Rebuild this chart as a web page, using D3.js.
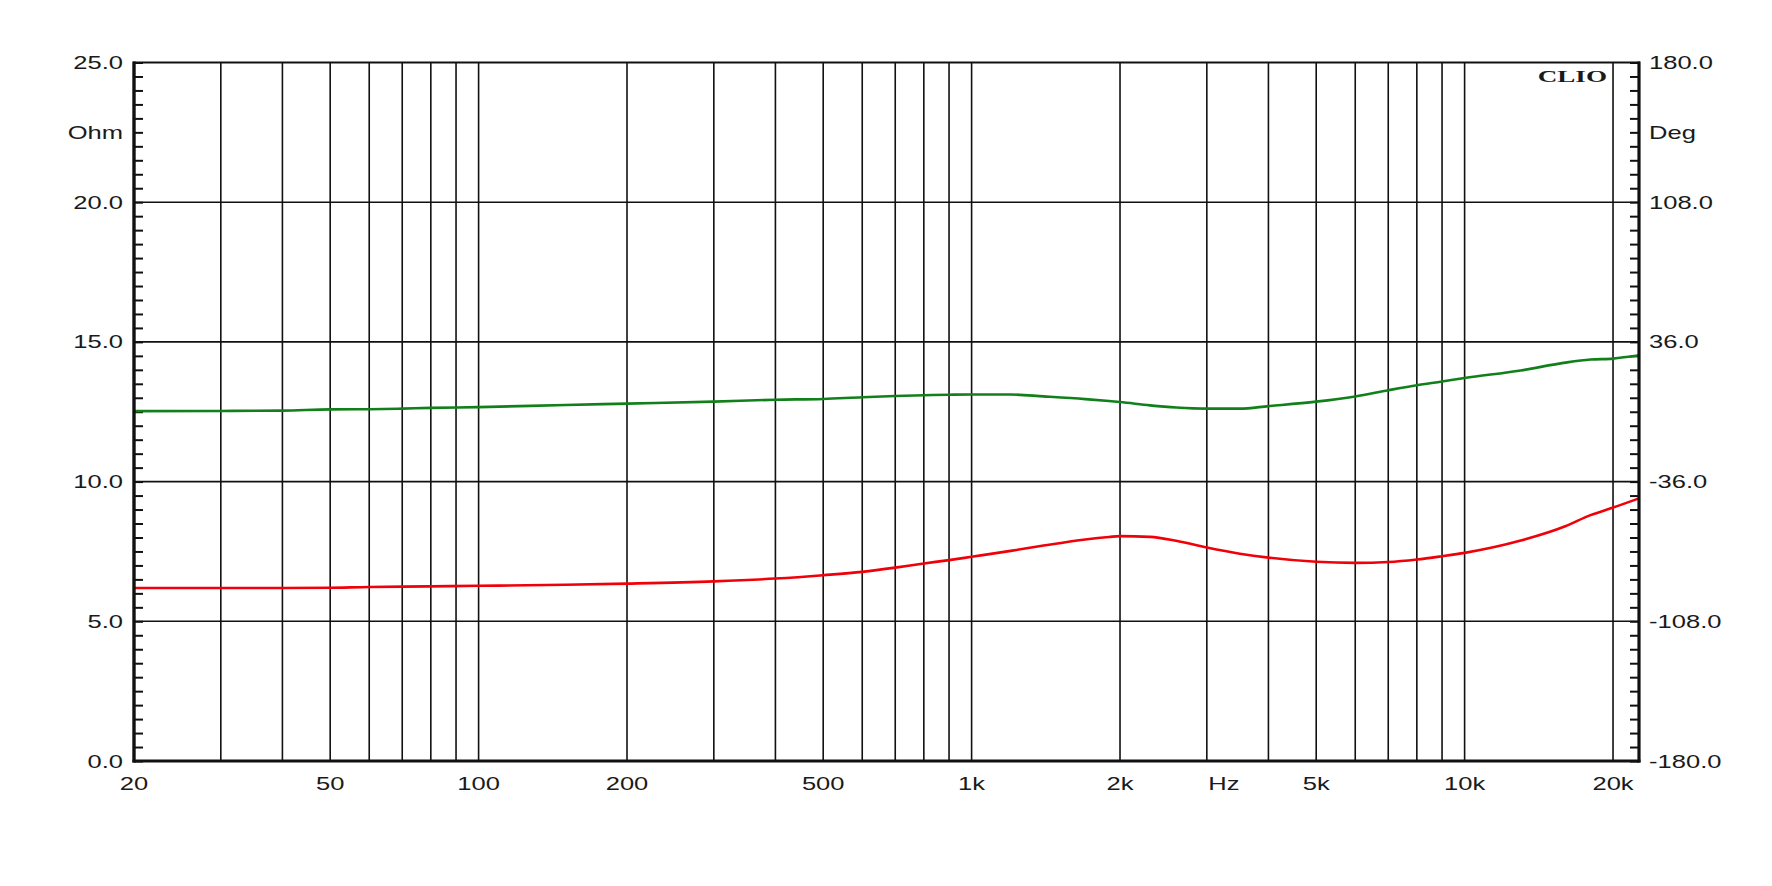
<!DOCTYPE html>
<html>
<head>
<meta charset="utf-8">
<script src="https://cdn.jsdelivr.net/npm/d3@7"></script>
<style>
  html, body { margin: 0; padding: 0; background: #ffffff; }
  svg { display: block; }
  text { font-family: "Liberation Sans", Arial, sans-serif; fill: #1a1a1a; }
</style>
</head>
<body>
<svg id="chart" width="1772" height="886"></svg>
<script>
// ---------------- data ----------------
const freqs = [20, 30, 40, 50, 60, 70, 80, 100, 150, 200, 300, 400, 500, 600, 700, 800, 900,
  1000, 1200, 1400, 1700, 1900, 2000, 2300, 2600, 3000, 3500, 4000, 5000, 6000, 7000, 8000,
  9000, 10000, 13000, 16000, 18000, 20000, 22580];
// impedance magnitude (Ohm, left axis) - red
const impedanceOhm = [6.19, 6.19, 6.19, 6.20, 6.23, 6.24, 6.25, 6.27, 6.31, 6.35, 6.43, 6.53,
  6.65, 6.77, 6.92, 7.07, 7.19, 7.31, 7.52, 7.71, 7.93, 8.02, 8.05, 8.02, 7.88, 7.64, 7.42,
  7.28, 7.13, 7.09, 7.12, 7.21, 7.33, 7.45, 7.89, 8.40, 8.80, 9.07, 9.40];
// phase (Deg, right axis) - green
const phaseDeg = [0.3, 0.4, 0.6, 1.2, 1.3, 1.6, 2.0, 2.4, 3.5, 4.2, 5.2, 6.2, 6.6, 7.5, 8.1,
  8.5, 8.8, 8.9, 8.9, 7.9, 6.5, 5.5, 5.0, 3.3, 2.2, 1.6, 1.6, 2.9, 5.2, 7.9, 11.1, 13.7, 15.6,
  17.4, 21.3, 25.3, 26.9, 27.4, 29.1];

const ohmTicks = [0, 5, 10, 15, 20, 25];
const ohmTickLabels = ["0.0", "5.0", "10.0", "15.0", "20.0", "25.0"];
const degTicks = [-180, -108, -36, 36, 108, 180];
const degTickLabels = ["-180.0", "-108.0", "-36.0", "36.0", "108.0", "180.0"];
const gridFreqs = [20, 30, 40, 50, 60, 70, 80, 90, 100, 200, 300, 400, 500, 600, 700, 800, 900,
  1000, 2000, 3000, 4000, 5000, 6000, 7000, 8000, 9000, 10000, 20000];
const freqLabelValues = [20, 50, 100, 200, 500, 1000, 2000, 3250, 5000, 10000, 20000];
const freqLabelTexts = ["20", "50", "100", "200", "500", "1k", "2k", "Hz", "5k", "10k", "20k"];
const leftUnit = "Ohm", rightUnit = "Deg", brand = "CLIO";

// ---------------- layout ----------------
const L = 134, R = 1639, T = 62.5, B = 761;
const SX = 1.42; // horizontal stretch of the original lettering

const svg = d3.select("#chart");
svg.append("rect").attr("width", 1772).attr("height", 886).attr("fill", "#fff");

const x = d3.scaleLog().domain([20, 22580]).range([L, R]);
const yOhm = d3.scaleLinear().domain([0, 25]).range([B, T]);
const yDeg = d3.scaleLinear().domain([-180, 180]).range([B, T]);

// grid
const grid = svg.append("g").attr("stroke", "#111").attr("stroke-width", 1.6);
grid.selectAll("line.v").data(gridFreqs.filter(f => f > 20)).enter().append("line")
  .attr("x1", d => x(d)).attr("x2", d => x(d)).attr("y1", T).attr("y2", B);
grid.selectAll("line.h").data(ohmTicks.filter(v => v > 0 && v < 25)).enter().append("line")
  .attr("x1", L).attr("x2", R).attr("y1", d => yOhm(d)).attr("y2", d => yOhm(d));

// minor ticks on left & right axes via d3 axes
const minorOhm = d3.range(0, 25.001, 0.5);
const leftAxis = d3.axisRight(yOhm).tickValues(minorOhm).tickSize(9).tickFormat("");
const gl = svg.append("g").attr("transform", `translate(${L},0)`).call(leftAxis);
gl.select(".domain").remove();
gl.selectAll(".tick line").attr("stroke", "#111").attr("stroke-width", 2);

const minorDeg = d3.range(-180, 180.001, 7.2);
const rightAxis = d3.axisLeft(yDeg).tickValues(minorDeg).tickSize(9).tickFormat("");
const gr = svg.append("g").attr("transform", `translate(${R},0)`).call(rightAxis);
gr.select(".domain").remove();
gr.selectAll(".tick line").attr("stroke", "#111").attr("stroke-width", 2);

// curves
const lineOhm = d3.line().x((d, i) => x(freqs[i])).y(d => yOhm(d)).curve(d3.curveMonotoneX);
const lineDeg = d3.line().x((d, i) => x(freqs[i])).y(d => yDeg(d)).curve(d3.curveMonotoneX);
svg.append("path").datum(phaseDeg).attr("d", lineDeg)
  .attr("fill", "none").attr("stroke", "#12801a").attr("stroke-width", 2.6);
svg.append("path").datum(impedanceOhm).attr("d", lineOhm)
  .attr("fill", "none").attr("stroke", "#f00008").attr("stroke-width", 2.6);

// frame
const frame = svg.append("g").attr("stroke", "#111").attr("fill", "none");
frame.append("line").attr("x1", L - 1).attr("x2", R + 1).attr("y1", T).attr("y2", T).attr("stroke-width", 2);
frame.append("line").attr("x1", L - 1.5).attr("x2", R + 1.5).attr("y1", B).attr("y2", B).attr("stroke-width", 2.8);
frame.append("line").attr("x1", L).attr("x2", L).attr("y1", T - 1).attr("y2", B + 1.4).attr("stroke-width", 3.4);
frame.append("line").attr("x1", R).attr("x2", R).attr("y1", T - 1).attr("y2", B + 1.4).attr("stroke-width", 3.2);

// text helper (stretched horizontally like the original)
function label(txt, px, py, anchor, opts = {}) {
  const t = svg.append("text")
    .attr("transform", `translate(${px},${py}) scale(${opts.sx || SX},1)`)
    .attr("text-anchor", anchor)
    .attr("font-size", opts.size || 18)
    .text(txt);
  if (opts.family) t.style("font-family", opts.family);
  if (opts.weight) t.attr("font-weight", opts.weight);
  return t;
}

// left labels
ohmTicks.forEach((v, i) => label(ohmTickLabels[i], 123, yOhm(v) + 6.5, "end"));
label(leftUnit, 123, yOhm(22.5) + 6.5, "end");
// right labels
degTicks.forEach((v, i) => label(degTickLabels[i], 1649, yDeg(v) + 6.5, "start"));
label(rightUnit, 1649, yDeg(144) + 6.5, "start");
// x labels
freqLabelValues.forEach((f, i) => label(freqLabelTexts[i], x(f), 789.5, "middle"));
// brand
label(brand, 1607, 81.5, "end", { family: "'Liberation Serif', 'Times New Roman', serif", weight: "bold", size: 17.5, sx: 1.55 });
</script>
</body>
</html>
